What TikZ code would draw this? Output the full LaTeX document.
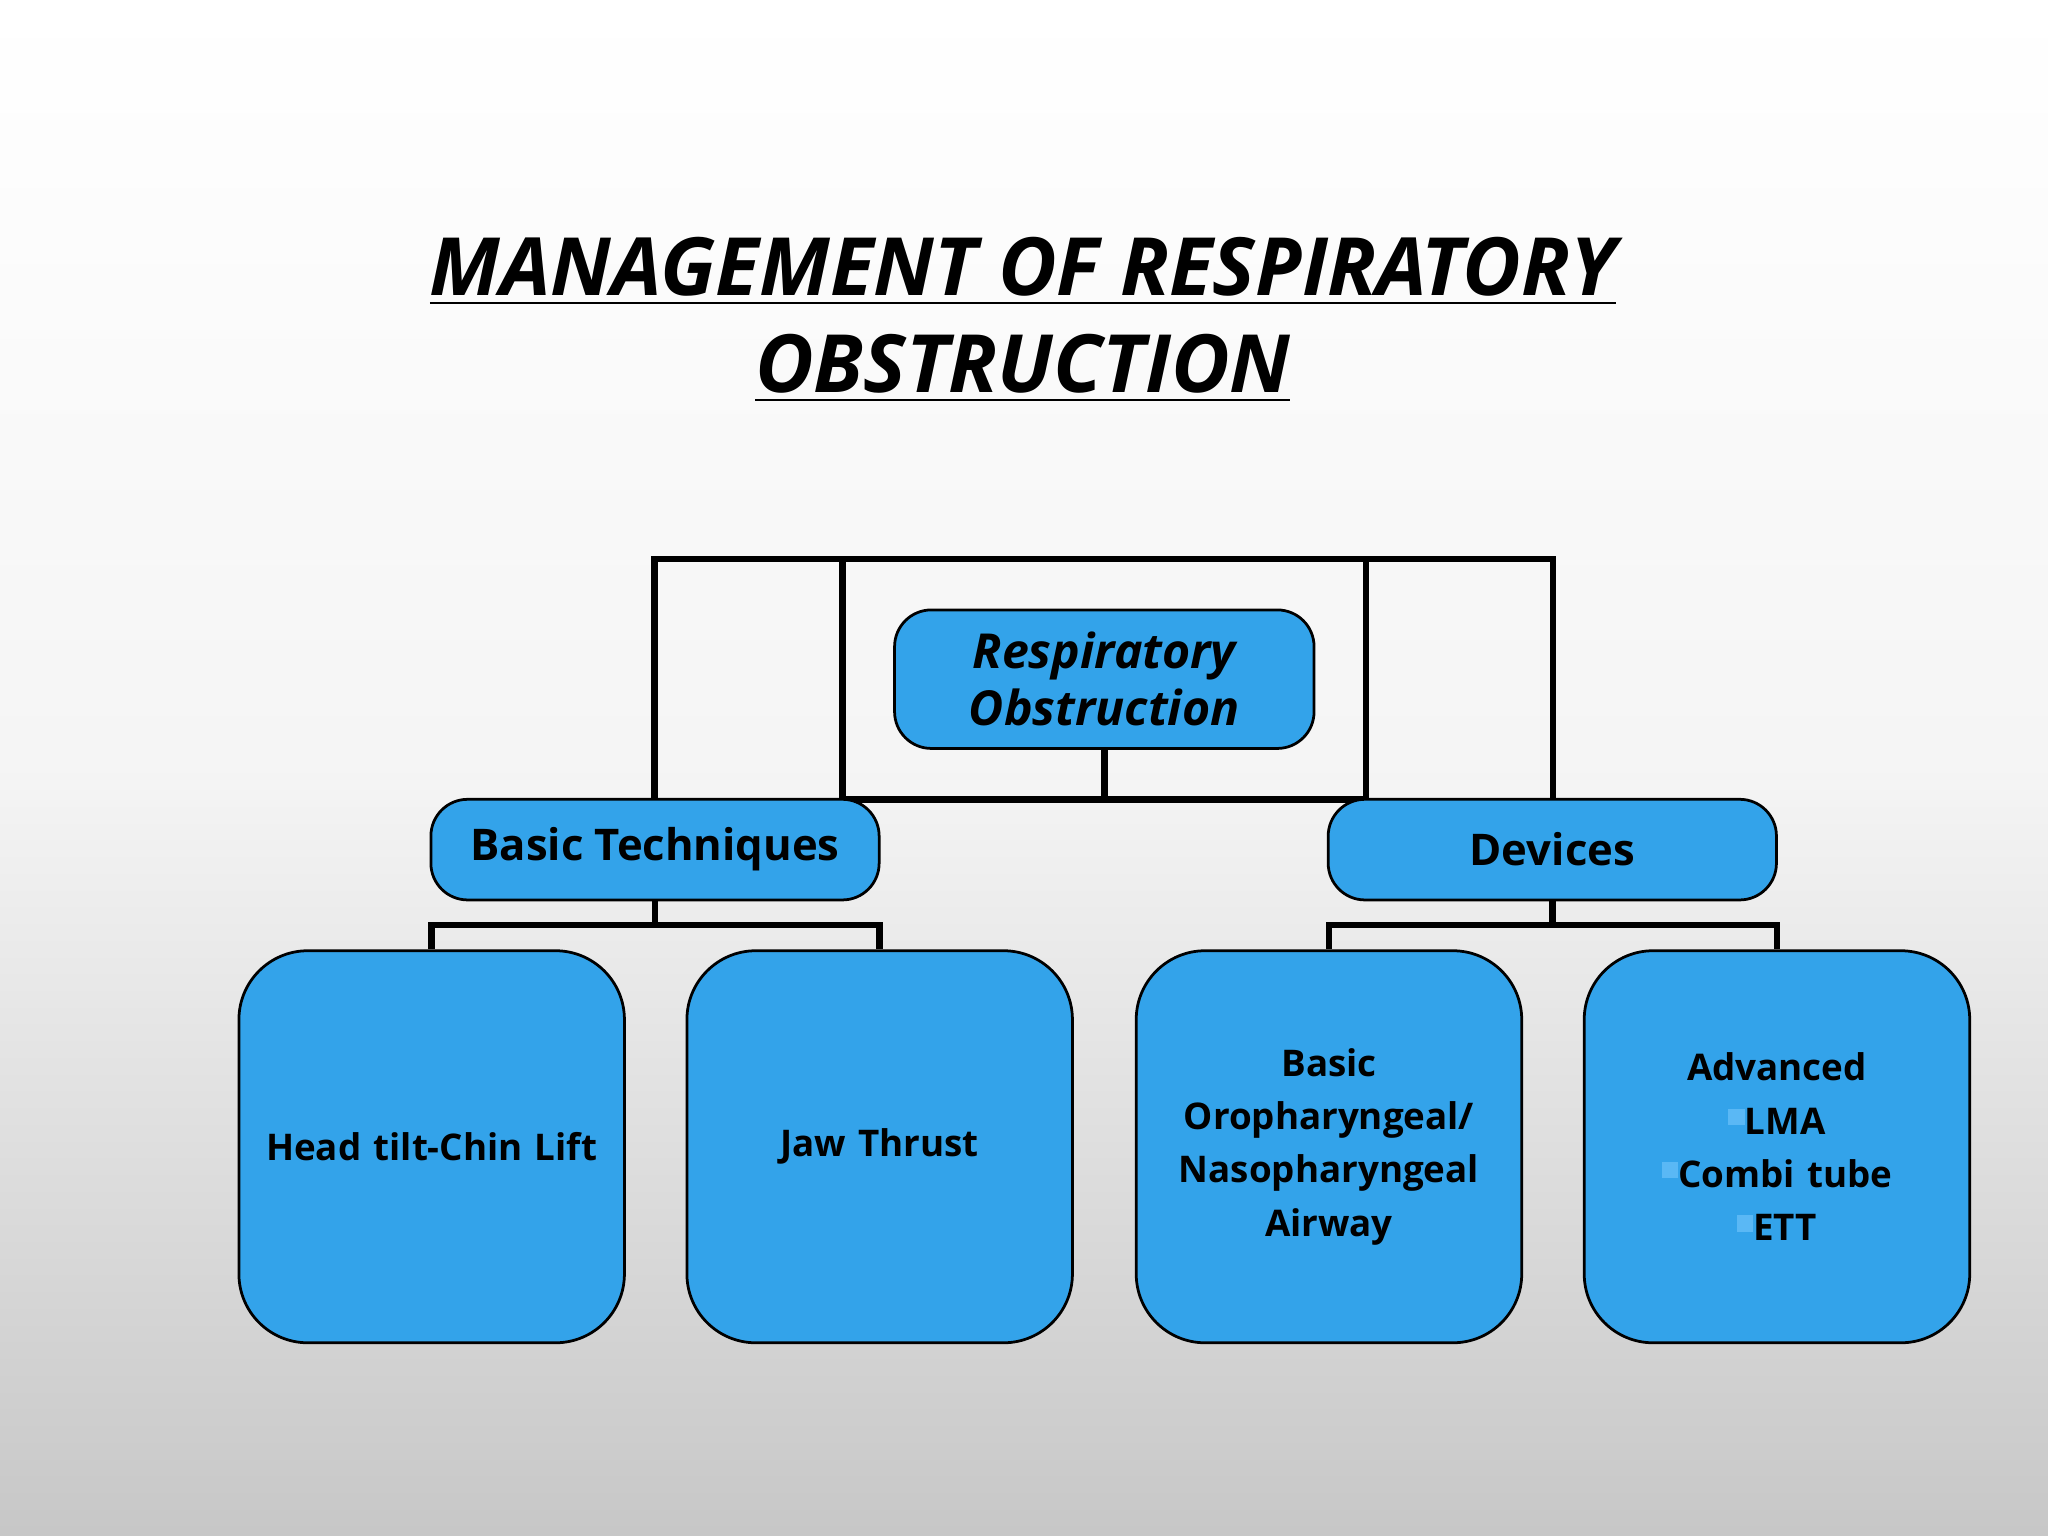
\documentclass[tikz,border=0pt]{standalone}
\usepackage{fontspec}
\setmainfont{Open Sans}
\usetikzlibrary{positioning}
\definecolor{boxblue}{HTML}{33A3EA}
\definecolor{bulblue}{HTML}{5AB8F5}
\newcommand{\bul}{\textcolor{bulblue}{\rule[0.45ex]{0.45em}{0.45em}}}
\begin{document}
\begin{tikzpicture}[x=0.01cm,y=-0.01cm,
        box/.style={draw=black,fill=boxblue,rounded corners=8pt,line width=0.6pt,
            font=\bfseries\fontsize{9.5}{12}\selectfont,align=center,inner sep=0pt},
        leaf/.style={box,rounded corners=15pt,minimum width=2.95cm,minimum height=3.0cm,
            text width=2.8cm,font=\bfseries\fontsize{8}{11.6}\selectfont},
        link/.style={line width=1.4pt}]

        % background
        \shade[top color=white,bottom color=black!22,middle color=black!4] (0,0) rectangle (1568,1176);
        \useasboundingbox (0,0) rectangle (1568,1176);

        % title
        \node[font=\bfseries\itshape\fontsize{17.5}{21}\selectfont,align=center] (title) at (783,245)
            {\underline{MANAGEMENT OF RESPIRATORY}\\\underline{OBSTRUCTION}};

        % frame lines
        \draw[link] (501,612) -- (501,428) -- (1189,428) -- (1189,612);
        \draw[link] (645,428) -- (645,612) -- (1046,612) -- (1046,428);

        % boxes
        \node[box,minimum width=3.21cm,minimum height=1.06cm,font=\bfseries\itshape\fontsize{10.5}{12.5}\selectfont]
            (root) at (845.5,520) {Respiratory\\Obstruction};
        \node[box,minimum width=3.43cm,minimum height=0.77cm] (basic) at (501.5,650.5) {Basic Techniques};
        \node[box,minimum width=3.43cm,minimum height=0.77cm] (dev) at (1188.5,650.5) {Devices};

        \node[leaf] (head) at (330.5,878) {Head tilt-Chin Lift};
        \node[leaf] (jaw) at (673.5,878) {Jaw Thrust};
        \node[leaf] (airway) at (1017.5,878) {Basic\\Oropharyngeal/\\Nasopharyngeal\\Airway};
        \node[leaf] (adv) at (1360.5,878) {Advanced\\\bul LMA\\\bul Combi tube\\\bul ETT\\[0.25cm]};

        % connectors
        \draw[link] (root.south) -- (845.5,612);
        \draw[link] (basic.south) -- (501.5,708) -| (head.north);
        \draw[link] (501.5,708) -| (jaw.north);
        \draw[link] (dev.south) -- (1188.5,708) -| (airway.north);
        \draw[link] (1188.5,708) -| (adv.north);

    \end{tikzpicture}
\end{document}
